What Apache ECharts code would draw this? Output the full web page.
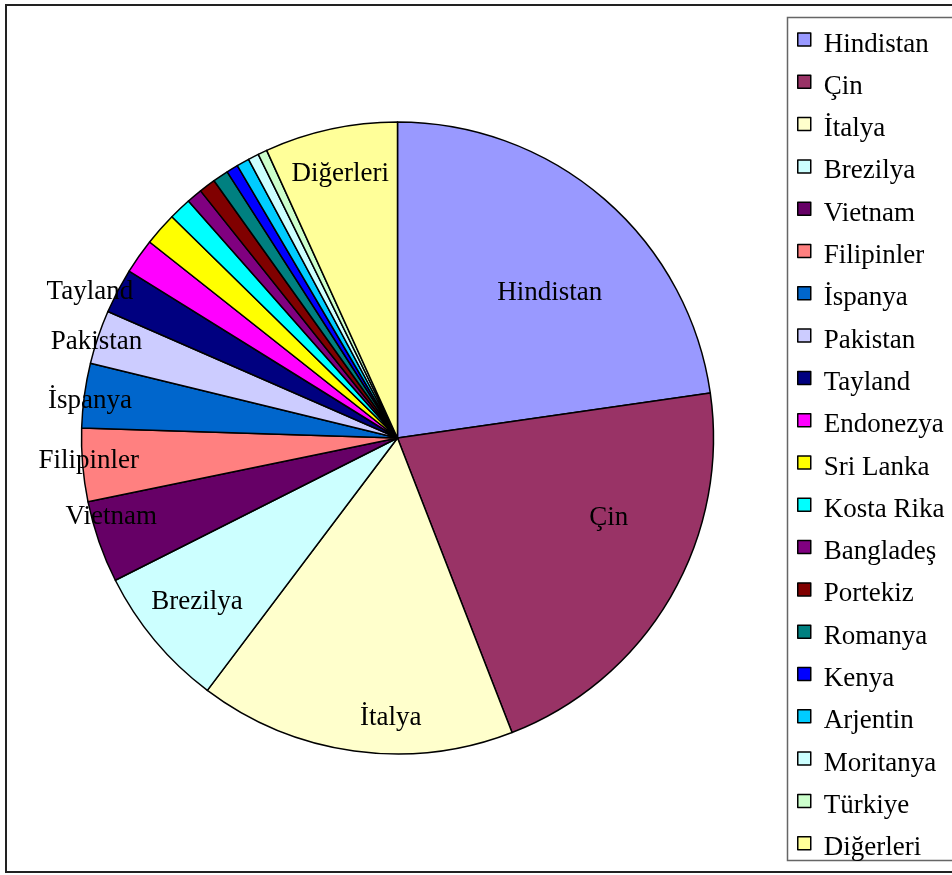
<!DOCTYPE html>
<html>
<head>
<meta charset="utf-8">
<script src="https://cdn.jsdelivr.net/npm/echarts@6/dist/echarts.min.js"></script>
<style>
  html, body { margin: 0; padding: 0; background: #fff; }
  #chart { width: 952px; height: 875px; }
</style>
</head>
<body>
<div id="chart"></div>
<script>
// Countries, in slice order (clockwise from 12 o'clock)
const countries = [
  'Hindistan', 'Çin', 'İtalya', 'Brezilya', 'Vietnam', 'Filipinler', 'İspanya',
  'Pakistan', 'Tayland', 'Endonezya', 'Sri Lanka', 'Kosta Rika', 'Bangladeş',
  'Portekiz', 'Romanya', 'Kenya', 'Arjentin', 'Moritanya', 'Türkiye', 'Diğerleri'
];

// Share of each country (%)
const shares = [
  22.75, 21.4, 16.2, 7.3, 4.2, 3.75, 3.3,
  2.75, 2.3, 1.8, 1.7, 1.15, 0.8,
  0.85, 0.8, 0.6, 0.65, 0.55, 0.47, 6.8
];

// Slice fill colours
const sliceColors = [
  '#9999FF', '#993366', '#FFFFCC', '#CCFFFF', '#660066', '#FF8080', '#0066CC',
  '#CCCCFF', '#000080', '#FF00FF', '#FFFF00', '#00FFFF', '#800080',
  '#800000', '#008080', '#0000FF', '#00CCFF', '#CCFFFF', '#CCFFCC', '#FFFF99'
];

// Slices that carry a name label
const labelledNames = [
  'Hindistan', 'Çin', 'İtalya', 'Brezilya', 'Vietnam', 'Filipinler',
  'İspanya', 'Pakistan', 'Tayland', 'Diğerleri'
];

// Label placement: [angle shift from slice bisector (deg), fraction of radius]
const labelPlacement = {
  'Hindistan': [5.4, 0.666],
  'Çin': [-9.5, 0.715],
  'İtalya': [-6.5, 0.885],
  'Brezilya': [0.6, 0.82],
  'Vietnam': [3.7, 0.94],
  'Filipinler': [0.6, 0.98],
  'İspanya': [-0.8, 0.98],
  'Pakistan': [-0.9, 1.0],
  'Tayland': [-2.3, 1.078],
  'Diğerleri': [0, 0.855]
};

const FONT = '"Liberation Serif", "Times New Roman", serif';
const CX = 397.5, CY = 438, R = 316;

// Mid-angle of each slice, clockwise from 12 o'clock, in degrees
const total = shares.reduce((a, b) => a + b, 0);
const midAngles = [];
let acc = 0;
shares.forEach(v => {
  midAngles.push((acc + v / 2) / total * 360);
  acc += v;
});

const data = countries.map((name, i) => ({
  name: name,
  value: shares[i],
  itemStyle: { color: sliceColors[i] },
  label: { show: labelledNames.indexOf(name) >= 0 }
}));

const chart = echarts.init(document.getElementById('chart'), null, { renderer: 'canvas' });

chart.setOption({
  backgroundColor: '#ffffff',
  animation: false,
  graphic: [
    {
      type: 'rect',
      shape: { x: 6, y: 5, width: 960, height: 867 },
      style: { fill: 'none', stroke: '#222', lineWidth: 2 },
      z: 0
    },
    {
      type: 'rect',
      shape: { x: 787.5, y: 17.5, width: 180, height: 843 },
      style: { fill: '#fff', stroke: '#666', lineWidth: 1.5 },
      z: 0
    }
  ],
  legend: {
    type: 'plain',
    orient: 'vertical',
    left: 797,
    top: 21,
    bottom: 0,
    padding: 0,
    itemWidth: 13,
    itemHeight: 13,
    itemGap: 5.3,
    icon: 'rect',
    itemStyle: { borderColor: '#000', borderWidth: 1.5 },
    formatter: function (name) { return '{t|' + name + '}'; },
    textStyle: {
      fontFamily: FONT,
      fontSize: 27,
      color: '#000',
      rich: {
        t: {
          fontFamily: FONT,
          fontSize: 27,
          color: '#000',
          lineHeight: 26,
          padding: [10, 0, 0, 8]
        }
      }
    },
    data: countries
  },
  series: [
    {
      type: 'pie',
      center: [CX, CY],
      radius: R,
      startAngle: 90,
      clockwise: true,
      avoidLabelOverlap: false,
      itemStyle: { borderColor: '#000', borderWidth: 1.5 },
      emphasis: { disabled: true },
      label: {
        position: 'inside',
        formatter: '{b}',
        fontFamily: FONT,
        fontSize: 27,
        color: '#000'
      },
      labelLine: { show: false },
      labelLayout: function (params) {
        const i = params.dataIndex;
        const p = labelPlacement[countries[i]];
        if (!p) return {};
        const a = (midAngles[i] + p[0]) * Math.PI / 180;
        return {
          x: CX + p[1] * R * Math.sin(a),
          y: CY - p[1] * R * Math.cos(a),
          align: 'center',
          verticalAlign: 'middle'
        };
      },
      data: data
    }
  ]
});
</script>
</body>
</html>
